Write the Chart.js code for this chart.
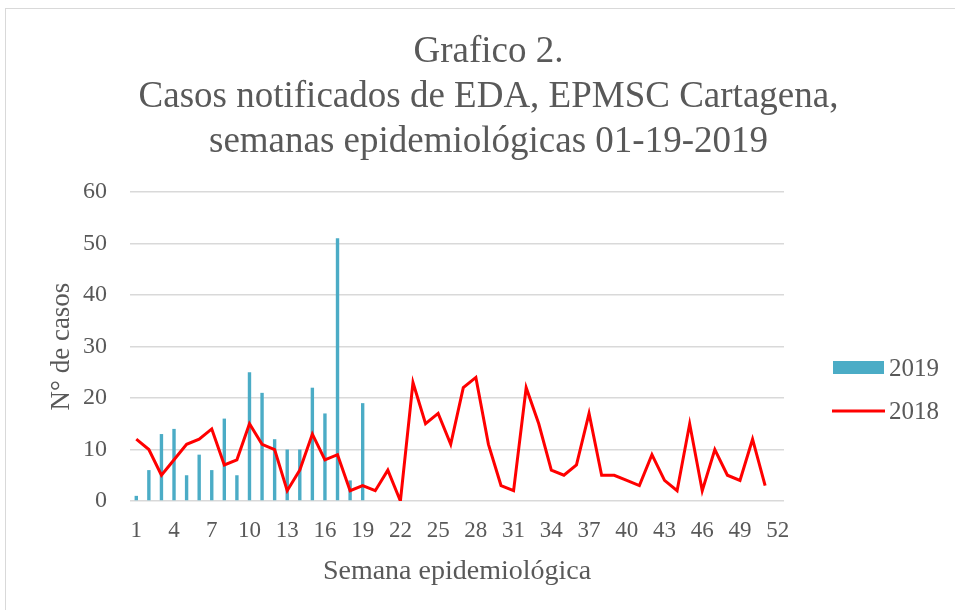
<!DOCTYPE html>
<html>
<head>
<meta charset="utf-8">
<script src="https://cdn.jsdelivr.net/npm/chart.js@4.4.1/dist/chart.umd.min.js"></script>
<style>
  html, body { margin: 0; padding: 0; background: #fff; }
  #box {
    position: absolute; left: 5px; top: 8px;
    width: 950px; height: 602px;
    border-left: 1px solid #d9d9d9; border-top: 1px solid #d9d9d9;
    box-sizing: border-box;
  }
</style>
</head>
<body>
<div id="box"><canvas id="chart"></canvas></div>
<script>
// semanas epidemiológicas 1..52
const weeks = Array.from({ length: 52 }, (_, i) => String(i + 1));

// casos 2019 (semanas 1-19)
const cases2019 = [1, 6, 13, 14, 5, 9, 6, 16, 5, 25, 21, 12, 10, 10, 22, 17, 51, 4, 19];

// casos 2018 (semanas 1-51)
const cases2018 = [12, 10, 5, 8, 11, 12, 14, 7, 8, 15, 11, 10, 2, 6, 13, 8, 9, 2, 3, 2,
  6, 0, 23, 15, 17, 11, 22, 24, 11, 3, 2, 22, 15, 6, 5, 7, 17, 5, 5, 4,
  3, 9, 4, 2, 15, 2, 10, 5, 4, 12, 3];

const titleLines = ['Grafico 2.', 'Casos notificados de EDA, EPMSC Cartagena,', 'semanas epidemiológicas 01-19-2019'];
const yTicks = [0, 10, 20, 30, 40, 50, 60];

const textColor = '#595959';
const fontFam = '"Liberation Serif", "DejaVu Serif", serif';

// title centred over the whole chart box, as in the Excel original
const boxTitle = {
  id: 'boxTitle',
  afterDraw(chart) {
    const ctx = chart.ctx;
    ctx.save();
    ctx.font = '37px ' + fontFam;
    ctx.fillStyle = textColor;
    ctx.textAlign = 'center';
    ctx.textBaseline = 'middle';
    titleLines.forEach((t, i) => ctx.fillText(t, chart.width / 2 + 8, 43 + i * 45));
    ctx.restore();
  }
};

// legend drawn at the right
const sideLegend = {
  id: 'sideLegend',
  afterDraw(chart) {
    const ctx = chart.ctx;
    const x0 = 826, y0 = 359;
    ctx.save();
    ctx.font = '25px ' + fontFam;
    ctx.textBaseline = 'middle';
    chart.data.datasets.forEach((ds, i) => {
      const y = y0 + i * 43;
      if (ds.type === 'line') {
        ctx.strokeStyle = ds.borderColor;
        ctx.lineWidth = ds.borderWidth;
        ctx.beginPath();
        ctx.moveTo(x0, y);
        ctx.lineTo(x0 + 53, y);
        ctx.stroke();
      } else {
        ctx.fillStyle = ds.backgroundColor;
        ctx.fillRect(x0 + 1, y - 7, 51, 13);
      }
      ctx.fillStyle = textColor;
      ctx.fillText(ds.label, x0 + 57, y + 1);
    });
    ctx.restore();
  }
};

new Chart(document.getElementById('chart'), {
  type: 'bar',
  data: {
    labels: weeks,
    datasets: [
      {
        type: 'bar',
        label: '2019',
        data: cases2019,
        backgroundColor: '#4bacc6',
        barPercentage: 0.27,
        categoryPercentage: 1,
        order: 2
      },
      {
        type: 'line',
        label: '2018',
        data: cases2018,
        borderColor: '#ff0000',
        backgroundColor: '#ff0000',
        borderWidth: 3,
        pointRadius: 0,
        tension: 0,
        order: 1
      }
    ]
  },
  options: {
    responsive: true,
    maintainAspectRatio: false,
    animation: false,
    layout: { padding: { left: 40, right: 171, top: 183, bottom: 0 } },
    plugins: {
      legend: { display: false },
      tooltip: { enabled: false },
      title: { display: false }
    },
    scales: {
      x: {
        offset: true,
        afterFit: (axis) => { axis.height = 109; },
        grid: { display: false },
        border: { display: false },
        ticks: {
          color: textColor,
          font: { family: fontFam, size: 23 },
          autoSkip: false,
          maxRotation: 0,
          padding: 8,
          callback: function (val, idx) { return idx % 3 === 0 ? this.getLabelForValue(val) : ''; }
        },
        title: {
          display: true,
          text: 'Semana epidemiológica',
          color: textColor,
          font: { family: fontFam, size: 28 },
          padding: { top: 0, bottom: 22 }
        }
      },
      y: {
        min: 0,
        max: 60,
        afterFit: (axis) => { axis.width = 84; },
        afterBuildTicks: (axis) => { axis.ticks = yTicks.map(v => ({ value: v })); },
        grid: { color: '#d9d9d9', lineWidth: 1.5, drawTicks: false },
        border: { display: false },
        ticks: {
          color: textColor,
          font: { family: fontFam, size: 24 },
          padding: 23
        },
        title: {
          display: true,
          text: 'N° de casos',
          color: textColor,
          font: { family: fontFam, size: 27 },
          padding: { top: 0, bottom: 0 }
        }
      }
    }
  },
  plugins: [boxTitle, sideLegend]
});
</script>
</body>
</html>
